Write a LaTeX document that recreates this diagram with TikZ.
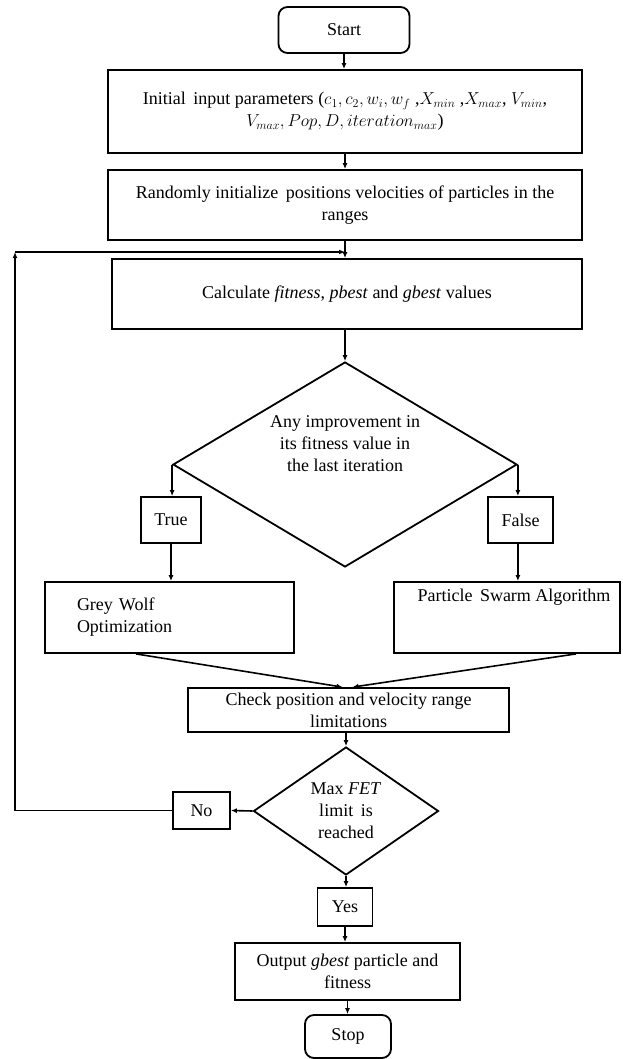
\documentclass[tikz,border=0pt]{standalone}
\usepackage{fontspec}
\setmainfont{Liberation Serif}
\usetikzlibrary{shapes.geometric,arrows.meta}

\begin{document}
\begin{tikzpicture}[x=1pt,y=-1pt,
    font=\fontsize{18}{22}\selectfont,
    box/.style={draw,line width=1.8pt,inner sep=0pt,align=center},
    term/.style={box,rounded corners=9pt},
    decision/.style={draw,line width=1.8pt,diamond,inner sep=0pt,align=center},
    flow/.style={line width=1.6pt,-{Latex[length=6pt,width=5pt]}}]
    \useasboundingbox (0,0) rectangle (622,1059);

    \node[term,minimum width=131pt,minimum height=46pt] (start) at (344,30) {Start};
    \node[box,minimum width=474pt,minimum height=83pt] (init) at (345,111.5)
      {Initial\, input parameters ($c_1,c_2,w_i,w_f$ ,$X_{min}$ ,$X_{max}$, $V_{min}$,\\
       $V_{max}, Pop, D, iteration_{max}$)};
    \node[box,minimum width=474pt,minimum height=70pt] (rand) at (345,205)
      {Randomly initialize\, positions velocities of particles in the\\ ranges};
    \node[box,minimum width=470pt,minimum height=70pt] (calc) at (347,294)
      {Calculate \textit{fitness}, \textit{pbest} and \textit{gbest} values};

    \node[decision,minimum width=344pt,minimum height=205pt] (dec1) at (345,464.5) {};
    \node[align=center] (dec1txt) at (345,444)
      {Any improvement in\\ its fitness value in\\ the last iteration};
    \node[box,minimum width=60pt,minimum height=46pt] (trueb) at (171,520) {True};
    \node[box,minimum width=65pt,minimum height=46pt] (falseb) at (520.5,520) {False};

    \node[box,minimum width=249pt,minimum height=71pt,text width=185pt,
      inner xsep=32pt,align=left] (gwo) at (169.5,617.5) {Grey Wolf\\ Optimization};
    \node[box,minimum width=226pt,minimum height=71pt] (pso) at (507,617.5) {};
    \node (psotxt) at (514,597) {Particle\, Swarm Algorithm};

    \node[box,minimum width=321pt,minimum height=44pt] (check) at (348.5,710)
      {Check position and velocity range\\ limitations};
    \node[decision,minimum width=185pt,minimum height=128pt] (dec2) at (346,811)
      {Max \textit{FET}\\ limit\, is\\ reached};
    \node[box,minimum width=57pt,minimum height=37pt] (nob) at (201.5,810.5) {No};
    \node[box,minimum width=55pt,minimum height=38pt] (yesb) at (345,907) {Yes};
    \node[box,minimum width=225pt,minimum height=57pt] (out) at (347.5,971.5)
      {Output \textit{gbest} particle and\\ fitness};
    \node[term,minimum width=86pt,minimum height=43pt] (stop) at (348,1036.5) {Stop};

    % main column
    \draw[flow] (start.south) -- (start.south |- init.north);
    \draw[flow] (init.south) -- (init.south |- rand.north);
    \draw[flow] (rand.south) -- (rand.south |- calc.north);
    \draw[flow] (calc.south -| dec1.north) -- (dec1.north);

    % branches
    \draw[flow] (dec1.west) -- (dec1.west |- trueb.north);
    \draw[flow] (dec1.east) -- (dec1.east |- falseb.north);
    \draw[flow] (trueb.south) -- (trueb.south |- gwo.north);
    \draw[flow] (dec1.east |- falseb.south) -- (dec1.east |- pso.north);
    \draw[flow] ([xshift=-33.5pt]gwo.south) -- ([xshift=-6pt]check.north);
    \draw[flow] ([xshift=69pt]pso.south) -- ([xshift=4pt]check.north);

    \draw[flow] (check.south -| dec2.north) -- (dec2.north);
    \draw[flow] (dec2.west) -- (nob.east);
    \draw[flow] (dec2.south) -- (dec2.south |- yesb.north);
    \draw[flow] (yesb.south) -- (yesb.south |- out.north);
    \draw[flow] (out.south) -- (out.south |- stop.north);

    % loop back
    \coordinate (corner) at (15,252);
    \coordinate (join) at (345,252);
    \draw[flow] (nob.west) -| (corner);
    \draw[flow] (corner) -- (join);
  \end{tikzpicture}
\end{document}
